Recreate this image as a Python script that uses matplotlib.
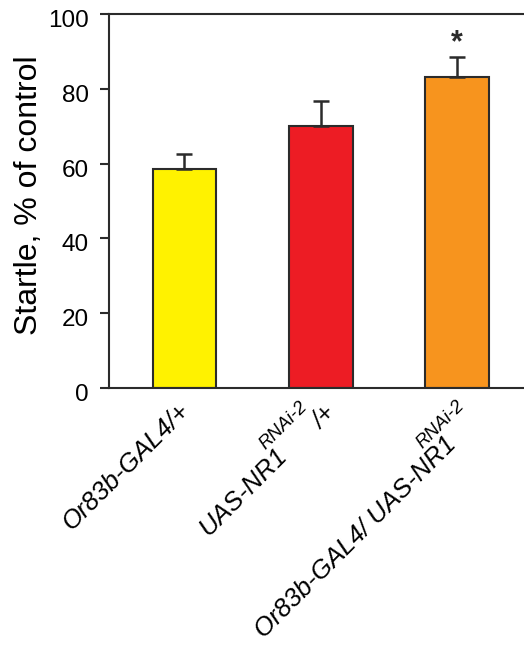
import numpy as np
import matplotlib
matplotlib.use('Agg')
from matplotlib import pyplot as plt
from matplotlib import transforms

plt.rcParams['font.family'] = ['Liberation Sans', 'DejaVu Sans']

# genotype labels: main part, superscript, trailing part
label_main = ['Or83b-GAL4/+', 'UAS-NR1', 'Or83b-GAL4/ UAS-NR1']
label_sup = ['', 'RNAi-2', 'RNAi-2']
label_tail = ['', '/+', '']
startle = [58.5, 70.0, 83.2]
sem = [4.1, 6.8, 5.4]
colors = ['#FFF200', '#ED1C24', '#F7941E']
signif = ['', '', '*']

fig = plt.figure(figsize=(5.24, 6.56), dpi=100)
ax = fig.add_axes([0.208, 0.4085, 0.80, 0.570])

x = np.arange(len(startle))
ax.bar(x, startle, width=0.466, color=colors, edgecolor='#2b2b2b', linewidth=1.5,
       yerr=[np.zeros(len(sem)), sem], error_kw=dict(ecolor='#2b2b2b', elinewidth=1.8,
                                                    capsize=5.5, capthick=1.8),
       zorder=2)
for xi, (v, e, s) in enumerate(zip(startle, sem, signif)):
    if s:
        ax.text(xi, v + e - 0.4, s, ha='center', va='bottom', fontsize=22,
                fontweight='bold', color='#2b2b2b')

ax.set_xlim(-0.552, 2.52)
ax.set_ylim(0, 100)
ax.set_yticks([0, 20, 40, 60, 80, 100])
ax.tick_params(axis='y', direction='out', length=6.5, width=1.5, labelsize=17.5,
               color='#2b2b2b', pad=8)
for lab in ax.get_yticklabels():
    lab.set_transform(lab.get_transform() +
                      transforms.ScaledTranslation(0, -4.5 / 100, fig.dpi_scale_trans))
ax.set_xticks([])


def px(dx, dy):
    return transforms.ScaledTranslation(dx / 100, dy / 100, fig.dpi_scale_trans)


# pixel offsets (from tick position at the x axis) of the label pieces
main_off = [(6.5, -24), (-33, -68.5), (0, -57.5)]
sup_off = [None, (-55, -62), (-35, -61)]
tail_off = [None, (0.5, -42), None]
base = ax.get_xaxis_transform()
for xi in range(len(label_main)):
    ax.text(xi, 0, label_main[xi], transform=base + px(*main_off[xi]), rotation=45,
            rotation_mode='anchor', ha='right', va='baseline', fontsize=18.5,
            style='italic', clip_on=False)
    if label_sup[xi]:
        ax.text(xi, 0, label_sup[xi], transform=base + px(*sup_off[xi]), rotation=45,
                rotation_mode='anchor', ha='left', va='baseline', fontsize=13.5,
                style='italic', clip_on=False)
    if label_tail[xi]:
        ax.text(xi, 0, label_tail[xi], transform=base + px(*tail_off[xi]), rotation=45,
                rotation_mode='anchor', ha='left', va='baseline', fontsize=18,
                style='italic', clip_on=False)

ax.set_ylabel('Startle, % of control', fontsize=23)
ax.yaxis.set_label_coords(-0.155, 0.515)

for side in ['left', 'top', 'bottom']:
    ax.spines[side].set_linewidth(1.5)
    ax.spines[side].set_color('#2b2b2b')
ax.spines['right'].set_visible(False)

fig.savefig('out.png', dpi=100)
